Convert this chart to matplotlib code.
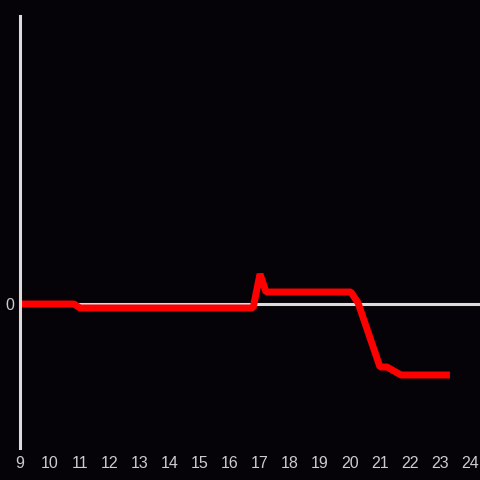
import matplotlib
matplotlib.use('Agg')
import matplotlib.pyplot as plt

hours = [9.0, 10.8, 11.0, 16.77, 17.0, 17.2, 20.03, 20.27, 21.0, 21.23, 21.7, 23.33]
values = [0.0, 0.0, -0.04, -0.04, 0.30, 0.12, 0.12, 0.01, -0.63, -0.63, -0.71, -0.71]
xticks = list(range(9, 25))

bg = '#050308'
fg = '#dcdcdc'

plt.rcParams['font.family'] = ['Liberation Sans', 'DejaVu Sans']
fig = plt.figure(figsize=(4.8, 4.8), dpi=100, facecolor=bg)
ax = fig.add_axes([20/480, 32/480, 460/480, 432/480], facecolor=bg)

ax.axhline(0, color=fg, lw=2.2, zorder=1)
ax.plot(hours, values, color='#ff0000', lw=5, solid_joinstyle='bevel',
        solid_capstyle='butt', zorder=2)

ax.set_xlim(9, 24.333)
ax.set_ylim(-1.44, 2.88)
ax.set_xticks(xticks)
ax.set_yticks([0])
ax.tick_params(length=0, colors='#cccccc', labelsize=11.5)
ax.tick_params(axis='x', pad=6)
ax.tick_params(axis='y', pad=4)
for s in ['top', 'right', 'bottom']:
    ax.spines[s].set_visible(False)
ax.spines['left'].set_color(fg)
ax.spines['left'].set_linewidth(2.2)

fig.savefig('out.png', dpi=100, facecolor=bg)
